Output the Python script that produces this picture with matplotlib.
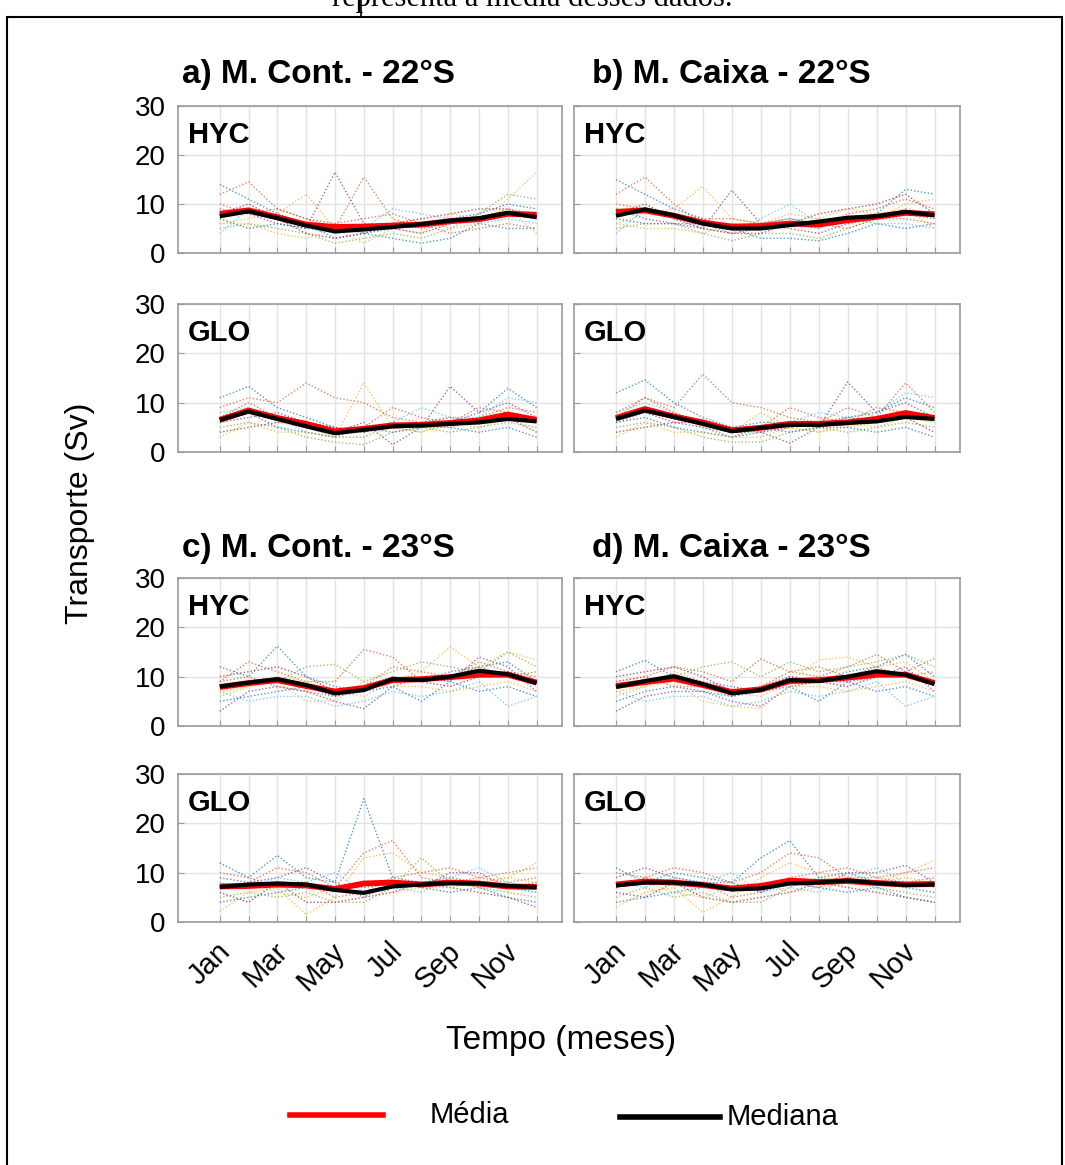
#!/usr/bin/env python3

import matplotlib
matplotlib.use('Agg')
from matplotlib import pyplot as plt
from matplotlib.lines import Line2D
from matplotlib.patches import Rectangle
from matplotlib.transforms import ScaledTranslation
import numpy as np

plt.rcParams['font.family'] = ['Liberation Sans', 'DejaVu Sans']

W, H = 1065, 1165

months = np.arange(1, 13)
month_labels = ['Jan', '', 'Mar', '', 'May', '', 'Jul', '', 'Sep', '', 'Nov', '']

# 22S, continental shelf
a_hyc_mean = [8.0, 8.7, 7.3, 5.8, 5.3, 5.4, 5.6, 5.8, 6.5, 6.9, 8.0, 7.8]
a_hyc_median = [7.5, 8.5, 7.1, 5.6, 4.4, 4.8, 5.3, 5.9, 6.6, 7.1, 8.2, 7.3]
a_hyc_years = [
    [14, 11, 8, 6, 3, 4, 5, 6, 7, 8, 10, 9],
    [12, 14.5, 9, 7, 5, 15.5, 7, 5, 6, 7, 9, 8],
    [6, 7, 8, 12, 5, 4, 6, 7, 5, 6, 11, 16.5],
    [9, 8, 6, 5, 16.5, 6, 5, 4, 6, 7, 8, 7],
    [5, 6, 5, 4, 2, 3, 4, 3, 5, 8, 12, 11],
    [4, 9, 7, 5, 4, 5, 9, 8, 7, 6, 7, 6],
    [8, 10, 7, 4, 3, 4, 6, 7, 8, 9, 9, 7],
    [7, 5, 6, 5, 6, 4, 3, 2, 3, 6, 5, 5],
    [10, 8, 9, 7, 6, 7, 8, 6, 4, 5, 6, 5],
    [6, 6, 4, 3, 5, 2, 5, 4, 8, 7, 9, 4],
]

a_glo_mean = [6.5, 8.4, 6.9, 5.7, 4.2, 4.7, 5.4, 5.5, 5.9, 6.4, 7.6, 6.5]
a_glo_median = [6.5, 8.2, 6.7, 5.2, 3.8, 4.5, 5.2, 5.4, 5.7, 6.0, 6.7, 6.2]
a_glo_years = [
    [11, 13.3, 9, 7, 5, 4, 6, 5, 6, 8, 12.9, 9],
    [9, 11, 10, 14, 11, 10, 7, 6, 5, 7, 9, 8],
    [7, 9, 6, 5, 3, 14, 5, 4, 6, 7, 8, 6],
    [6, 7, 8, 6, 4, 6, 1.5, 5, 13.3, 8, 10, 7],
    [5, 6, 5, 3, 2, 1.5, 4, 5, 4, 5, 6, 5],
    [8, 9, 7, 4, 3, 3, 6, 9, 7, 7, 11, 10],
    [4, 5, 6, 6, 5, 4, 5, 6, 7, 6, 7, 4],
    [6, 8, 5, 4, 3, 5, 4, 5, 5, 4, 5, 3],
    [7, 10, 7, 5, 4, 5, 9, 7, 6, 9, 8, 7],
    [3, 6, 4, 4, 3, 3, 5, 4, 6, 5, 7, 6],
]

# 22S, box
b_hyc_mean = [8.4, 8.7, 7.6, 6.2, 5.4, 5.5, 6.0, 5.8, 6.7, 7.4, 8.2, 7.9]
b_hyc_median = [7.6, 8.9, 7.7, 6.0, 5.0, 5.0, 5.7, 6.4, 7.2, 7.5, 8.4, 7.7]
b_hyc_years = [
    [15, 12, 9, 7, 5, 6, 7, 6, 7, 8, 13, 12],
    [12, 15.5, 10, 6, 4, 5, 6, 5, 8, 9, 11, 9],
    [6, 8, 9, 13.6, 7, 6, 8, 7, 6, 7, 10, 11],
    [9, 7, 6, 5, 12.8, 6, 5, 4, 6, 7, 8, 7],
    [5, 6, 6, 4, 2.5, 4, 4, 3, 5, 7, 9, 8],
    [4, 9, 8, 5, 4, 7, 10, 6, 7, 6, 6, 5],
    [8, 10, 7, 5, 4, 4, 6, 8, 9, 10, 12, 8],
    [7, 6, 6, 6, 5, 3, 3, 2.5, 4, 6, 5, 6],
    [10, 9, 8, 7, 7, 6, 7, 6, 5, 7, 7, 6],
    [6, 5, 5, 4, 6, 5, 5, 7, 9, 8, 9, 5],
]

b_glo_mean = [6.9, 8.7, 7.2, 6.0, 4.4, 4.9, 5.7, 5.7, 6.0, 6.7, 7.9, 6.9]
b_glo_median = [6.7, 8.4, 7.1, 5.7, 4.2, 4.9, 5.5, 5.5, 5.9, 6.2, 7.1, 6.7]
b_glo_years = [
    [12, 14.6, 10, 7, 5, 6, 6, 5, 7, 8, 11, 9],
    [8, 11, 9, 15.8, 10, 9, 7, 6, 9, 7, 14, 8],
    [7, 9, 7, 5, 4, 8, 5, 4, 5, 6, 8, 6],
    [6, 8, 6, 5, 3, 4, 1.8, 5, 14.2, 8, 10, 7],
    [5, 6, 5, 3, 2, 2, 4, 5, 4, 5, 6, 5],
    [8, 10, 8, 5, 4, 4, 6, 8, 7, 8, 12, 11],
    [4, 5, 6, 6, 5, 4, 5, 6, 7, 6, 7, 4],
    [6, 7, 5, 4, 3, 5, 4, 5, 5, 4, 5, 3],
    [7, 11, 8, 6, 4, 5, 9, 7, 6, 9, 8, 7],
    [3, 6, 4, 4, 3, 3, 5, 4, 6, 5, 7, 6],
]

# 23S, continental shelf
c_hyc_mean = [7.9, 8.7, 9.3, 8.1, 7.0, 7.7, 9.3, 9.5, 9.9, 10.4, 10.4, 8.8]
c_hyc_median = [8.0, 8.8, 9.5, 8.3, 6.6, 7.3, 9.5, 9.3, 10.0, 11.2, 10.5, 8.7]
c_hyc_years = [
    [12, 10, 16.2, 10, 8, 7, 10, 9, 11, 12, 13, 9],
    [9, 13, 11, 9, 9, 15.5, 14, 9, 10, 13, 11, 10],
    [6, 8, 10, 9, 7, 6, 9, 11, 16, 12, 15, 13.4],
    [3, 7, 8, 7, 5, 3.5, 8, 10, 9, 14, 12, 7],
    [8, 9, 9, 12, 12.5, 9, 11, 13, 12, 11, 15, 12],
    [7, 5, 6, 6, 4, 5, 7, 6, 7, 9, 4, 6],
    [10, 11, 12, 10, 7, 8, 10, 9, 8, 10, 11, 9],
    [5, 6, 7, 8, 6, 7, 8, 5, 9, 7, 8, 6],
    [9, 10, 8, 7, 6, 8, 12, 11, 10, 12, 10, 11],
    [7, 8, 9, 5, 5, 9, 8, 8, 7, 8, 9, 7],
]

c_glo_mean = [7.2, 7.3, 7.6, 7.4, 6.7, 7.8, 8.0, 7.6, 8.0, 7.8, 7.2, 7.1]
c_glo_median = [7.1, 7.6, 7.8, 7.6, 6.5, 5.9, 7.2, 7.6, 7.9, 7.8, 7.3, 7.1]
c_glo_years = [
    [12, 9, 13.5, 9, 8, 25, 9, 8, 9, 8, 7, 6],
    [7, 8, 11, 10, 7, 14, 16.5, 9, 8, 9, 8, 9],
    [2.2, 6, 7, 1.5, 5, 13, 14, 10, 9, 8, 9, 12],
    [9, 8, 9, 11, 8, 5, 8, 7, 10, 10, 7, 8],
    [5, 6, 5, 6, 4, 4, 7, 13, 8, 7, 6, 5],
    [8, 7, 9, 8, 10, 6, 7, 6, 9, 11, 8, 7],
    [6, 4, 8, 4, 4, 5, 6, 8, 7, 6, 5, 3],
    [4, 5, 6, 7, 7, 7, 8, 7, 6, 7, 5, 4],
    [10, 9, 7, 8, 5, 6, 9, 10, 11, 9, 10, 11],
    [7, 8, 6, 5, 7, 8, 6, 7, 7, 8, 9, 8],
]

# 23S, box
d_hyc_mean = [8.1, 8.9, 9.6, 8.3, 6.9, 7.4, 9.1, 9.3, 9.8, 10.4, 10.4, 8.7]
d_hyc_median = [7.9, 9.1, 10.1, 8.5, 6.6, 7.3, 9.3, 9.1, 10.0, 11.1, 10.4, 8.5]
d_hyc_years = [
    [11, 13.3, 10, 9, 8, 7, 10, 9, 11, 12, 14.5, 10],
    [9, 10, 12, 11, 9, 13.6, 11, 10, 12, 14.5, 11, 13.7],
    [6, 8, 11, 9, 7, 6, 9, 13.4, 14, 12, 13, 9],
    [3, 6, 7, 7, 5, 4, 8, 9, 9, 10, 12, 7],
    [8, 9, 10, 12, 13, 10, 13, 11, 12, 13, 14.5, 12],
    [7, 5, 6, 6, 4, 5, 7, 6, 7, 9, 4, 6],
    [10, 11, 12, 10, 7, 8, 10, 9, 8, 10, 11, 9],
    [5, 7, 8, 7, 6, 7, 8, 5, 9, 7, 8, 6],
    [9, 10, 8, 8, 6, 8, 11, 12, 10, 12, 10, 11],
    [7, 8, 9, 5, 4, 3.5, 8, 8, 7, 8, 9, 7],
]

d_glo_mean = [7.6, 8.2, 8.0, 7.5, 6.8, 7.3, 8.4, 8.1, 8.3, 7.9, 7.6, 7.7]
d_glo_median = [7.4, 8.0, 8.0, 7.6, 6.6, 6.8, 7.8, 8.0, 8.4, 7.9, 7.5, 7.6]
d_glo_years = [
    [11, 8, 10, 9, 8, 13, 16.5, 9, 10, 8, 7, 6],
    [7, 9, 11, 10, 8, 10, 14, 13, 9, 9, 8, 9],
    [3, 6, 7, 2, 5, 9, 12, 10, 9, 8, 10, 12.5],
    [9, 11, 9, 8, 8, 6, 8, 7, 10, 10, 11.5, 8],
    [5, 7, 5, 6, 4, 4, 7, 9, 8, 7, 6, 5],
    [8, 7, 9, 8, 10, 6, 7, 6, 9, 11, 8, 7],
    [6, 5, 8, 5, 4, 5, 6, 8, 7, 6, 5, 4],
    [4, 5, 6, 7, 7, 7, 8, 7, 6, 7, 5, 4],
    [10, 9, 8, 8, 5, 6, 9, 10, 11, 9, 10, 11],
    [7, 8, 6, 5, 7, 8, 6, 7, 8, 8, 9, 8],
]

# matlab default line colours
year_colors = ['#0072bd', '#d95319', '#edb120', '#7e2f8e',
               '#77ac30', '#4dbeee', '#a2142f']


def px_axes(fig, x0, y0, x1, y1):
    return fig.add_axes([x0 / W, 1 - y1 / H, (x1 - x0) / W, (y1 - y0) / H])


def draw_panel(fig, ax, years, mean, median, model, left, bottom):
    for i, yr in enumerate(years):
        ax.plot(months, yr, linestyle=(0, (1, 1.5)), linewidth=1.0,
                color=year_colors[i % len(year_colors)], alpha=0.7, zorder=2)
    ax.plot(months, mean, color='red', linewidth=4.2, zorder=3,
            solid_capstyle='butt')
    ax.plot(months, median, color='black', linewidth=3.0, zorder=4,
            solid_capstyle='butt')

    ax.set_xlim(-0.45, 12.88)
    ax.set_ylim(0, 30)
    ax.set_xticks(months)
    ax.set_yticks([0, 10, 20, 30])
    ax.grid(True, color='#e3e3e3', linewidth=1.0)
    ax.set_axisbelow(True)
    for sp in ax.spines.values():
        sp.set_color('#9a9a9a')
        sp.set_linewidth(1.2)
    ax.tick_params(direction='in', length=4, color='#9a9a9a',
                   labelsize=20, pad=9)

    if left:
        ax.set_yticklabels(['0', '10', '20', '30'])
    else:
        ax.set_yticklabels([])
    if bottom:
        ax.set_xticklabels(month_labels, rotation=45, ha='right',
                           va='center', rotation_mode='anchor', fontsize=21)
        ax.tick_params(axis='x', pad=18)
        # nudge the slanted month names a little to the right
        shift = ScaledTranslation(0.06, 0, fig.dpi_scale_trans)
        for lab in ax.get_xticklabels():
            lab.set_transform(lab.get_transform() + shift)
    else:
        ax.set_xticklabels([])

    ax.text(0.025, 0.75, model, transform=ax.transAxes, fontsize=21,
            fontweight='bold', ha='left', va='baseline', zorder=5)


def main():
    fig = plt.figure(figsize=(W / 100, H / 100), dpi=100)

    # page text above the figure frame, partly cut off
    fig.text(532 / W, 1 - 6 / H, 'representa a média desses dados.',
             family='Liberation Serif', fontsize=22, ha='center',
             va='baseline')
    fig.add_artist(Line2D([361 / W, 361 / W], [1, 1 - 17 / H],
                          color='black', linewidth=1.2))
    fig.add_artist(Rectangle((7 / W, -0.01), (1062 - 7) / W,
                             1 - 17 / H + 0.01, fill=False,
                             edgecolor='black', linewidth=1.5))

    cols = [(178, 562), (574, 960)]
    rows = [(106, 253), (304, 452), (578, 726), (774, 922)]

    panels = [
        (0, 0, a_hyc_years, a_hyc_mean, a_hyc_median, 'HYC'),
        (0, 1, a_glo_years, a_glo_mean, a_glo_median, 'GLO'),
        (1, 0, b_hyc_years, b_hyc_mean, b_hyc_median, 'HYC'),
        (1, 1, b_glo_years, b_glo_mean, b_glo_median, 'GLO'),
        (0, 2, c_hyc_years, c_hyc_mean, c_hyc_median, 'HYC'),
        (0, 3, c_glo_years, c_glo_mean, c_glo_median, 'GLO'),
        (1, 2, d_hyc_years, d_hyc_mean, d_hyc_median, 'HYC'),
        (1, 3, d_glo_years, d_glo_mean, d_glo_median, 'GLO'),
    ]
    for c, r, years, mean, median, model in panels:
        x0, x1 = cols[c]
        y0, y1 = rows[r]
        ax = px_axes(fig, x0, y0, x1, y1)
        draw_panel(fig, ax, years, mean, median, model, c == 0, r == 3)

    titles = [
        (182, 83, 'a) M. Cont. - 22°S'),
        (592, 83, 'b) M. Caixa - 22°S'),
        (182, 557, 'c) M. Cont. - 23°S'),
        (592, 557, 'd) M. Caixa - 23°S'),
    ]
    for x, y, t in titles:
        fig.text(x / W, 1 - y / H, t, fontsize=24, fontweight='bold',
                 ha='left', va='baseline')

    fig.text(80 / W, 1 - 513 / H, 'Transporte (Sv)', fontsize=23,
             rotation=90, ha='center', va='center')
    fig.text(561 / W, 1 - 1040 / H, 'Tempo (meses)', fontsize=24,
             ha='center', va='center')

    # legend
    fig.add_artist(Line2D([290 / W, 383 / W], [1 - 1115 / H] * 2,
                          color='red', linewidth=4.0))
    fig.add_artist(Line2D([620 / W, 720 / W], [1 - 1117 / H] * 2,
                          color='black', linewidth=4.0))
    fig.text(430 / W, 1 - 1115 / H, 'Média', fontsize=21,
             ha='left', va='center')
    fig.text(727 / W, 1 - 1117 / H, 'Mediana', fontsize=21,
             ha='left', va='center')

    plt.savefig('out.png', dpi=100)


if __name__ == "__main__":
    main()
